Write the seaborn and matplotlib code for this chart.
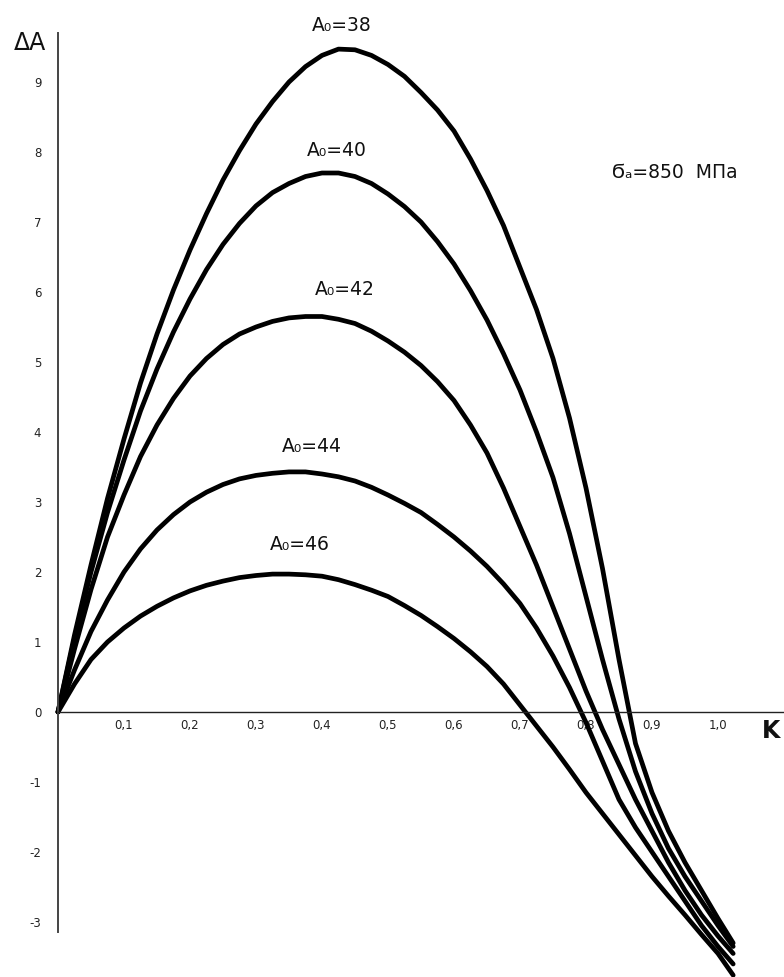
import numpy as np
import pandas as pd
import seaborn as sns
import matplotlib.pyplot as plt

k = [0, 0.025, 0.05, 0.075, 0.10, 0.125, 0.15, 0.175, 0.20, 0.225, 0.25,
     0.275, 0.30, 0.325, 0.35, 0.375, 0.40, 0.425, 0.45, 0.475, 0.50,
     0.525, 0.55, 0.575, 0.60, 0.625, 0.65, 0.675, 0.70, 0.725, 0.75,
     0.775, 0.80, 0.825, 0.85, 0.875, 0.90, 0.925, 0.95, 0.975, 1.00, 1.023]

# dA for each A0
da_38 = [0, 1.1, 2.1, 3.05, 3.9, 4.7, 5.4, 6.03, 6.6, 7.12, 7.6,
         8.02, 8.4, 8.72, 9.0, 9.22, 9.38, 9.47, 9.46, 9.38, 9.25,
         9.08, 8.85, 8.6, 8.3, 7.9, 7.45, 6.95, 6.35, 5.75, 5.05,
         4.2, 3.2, 2.05, 0.75, -0.45, -1.15, -1.7, -2.15, -2.55, -2.95, -3.3]
da_40 = [0, 1.05, 2.0, 2.85, 3.6, 4.3, 4.9, 5.43, 5.9, 6.32, 6.68,
         6.98, 7.23, 7.42, 7.55, 7.65, 7.7, 7.7, 7.65, 7.55, 7.4,
         7.22, 7.0, 6.72, 6.4, 6.02, 5.6, 5.12, 4.6, 4.0, 3.35,
         2.55, 1.65, 0.75, -0.1, -0.85, -1.45, -1.95, -2.35, -2.7, -3.05, -3.35]
da_42 = [0, 0.9, 1.75, 2.5, 3.1, 3.65, 4.1, 4.48, 4.8, 5.05, 5.25,
         5.4, 5.5, 5.58, 5.63, 5.65, 5.65, 5.61, 5.55, 5.44, 5.3,
         5.14, 4.95, 4.72, 4.45, 4.1, 3.7, 3.2, 2.65, 2.1, 1.5,
         0.9, 0.3, -0.25, -0.75, -1.25, -1.7, -2.15, -2.55, -2.9, -3.2, -3.45]
da_44 = [0, 0.6, 1.15, 1.6, 2.0, 2.33, 2.6, 2.82, 3.0, 3.14, 3.25,
         3.33, 3.38, 3.41, 3.43, 3.43, 3.4, 3.36, 3.3, 3.21, 3.1,
         2.98, 2.85, 2.68, 2.5, 2.3, 2.08, 1.83, 1.55, 1.2, 0.8,
         0.35, -0.15, -0.7, -1.25, -1.65, -2.0, -2.35, -2.7, -3.05, -3.35, -3.6]
da_46 = [0, 0.4, 0.75, 1.0, 1.2, 1.37, 1.51, 1.63, 1.73, 1.81, 1.87,
         1.92, 1.95, 1.97, 1.97, 1.96, 1.94, 1.89, 1.82, 1.74, 1.65,
         1.52, 1.38, 1.22, 1.05, 0.86, 0.65, 0.4, 0.1, -0.2, -0.5,
         -0.82, -1.15, -1.45, -1.75, -2.05, -2.35, -2.63, -2.9, -3.18, -3.45, -3.76]

a0_values = [38, 40, 42, 44, 46]
curves = [da_38, da_40, da_42, da_44, da_46]

# label positions (k, dA) above each peak
label_k = [0.43, 0.423, 0.435, 0.385, 0.367]
label_da = [9.81, 8.02, 6.03, 3.8, 2.39]

xtick_vals = [0.1, 0.2, 0.3, 0.4, 0.5, 0.6, 0.7, 0.8, 0.9, 1.0]
xtick_labels = ['0,1', '0,2', '0,3', '0,4', '0,5', '0,6', '0,7', '0,8', '0,9', '1,0']
ytick_vals = [-3, -2, -1, 0, 1, 2, 3, 4, 5, 6, 7, 8, 9]

rows = []
for a0, vals in zip(a0_values, curves):
    for kk, v in zip(k, vals):
        rows.append({'K': kk, 'dA': v, 'A0': a0})
df = pd.DataFrame(rows)

sns.set_theme(style='white')
plt.rcParams['font.family'] = ['DejaVu Sans']

fig = plt.figure(figsize=(7.84, 9.77), dpi=100)
ax = fig.add_axes([0, 0, 1, 1])

sns.lineplot(data=df, x='K', y='dA', hue='A0', units='A0', estimator=None,
             palette=['black'] * 5, linewidth=3.4, legend=False, ax=ax)

for a0, lk, ld in zip(a0_values, label_k, label_da):
    ax.text(lk, ld, f'A₀={a0}', ha='center', va='center', fontsize=13.5, color='#111')

ax.text(0.935, 7.7, 'Ϭₐ=850  МПа', ha='center', va='center', fontsize=13.5, color='#111')
ax.text(-0.042, 9.55, 'ΔA', ha='center', va='center', fontsize=17, color='#111')
ax.text(1.08, -0.27, 'K', ha='center', va='center', fontsize=17, fontweight='bold', color='#111')

ax.set_xlim(-58 / 660, (784 - 58) / 660)
ax.set_ylim((712 - 977) / 70, 712 / 70)

for s in ['top', 'right']:
    ax.spines[s].set_visible(False)
ax.spines['left'].set_position(('data', 0))
ax.spines['left'].set_bounds(-3.14, 9.7)
ax.spines['left'].set_color('#444')
ax.spines['left'].set_linewidth(1.4)
ax.spines['bottom'].set_position(('data', 0))
ax.spines['bottom'].set_bounds(0, 1.1)
ax.spines['bottom'].set_color('#222')
ax.spines['bottom'].set_linewidth(1.0)

ax.set_xticks(xtick_vals)
ax.set_xticklabels(xtick_labels)
ax.set_yticks(ytick_vals)
ax.set_yticklabels([str(v) for v in ytick_vals])
ax.tick_params(axis='x', length=0, pad=5, labelsize=8.5, colors='#222')
ax.tick_params(axis='y', length=0, pad=12, labelsize=8.5, colors='#222')
ax.set_xlabel('')
ax.set_ylabel('')

fig.savefig('out.png', dpi=100)
